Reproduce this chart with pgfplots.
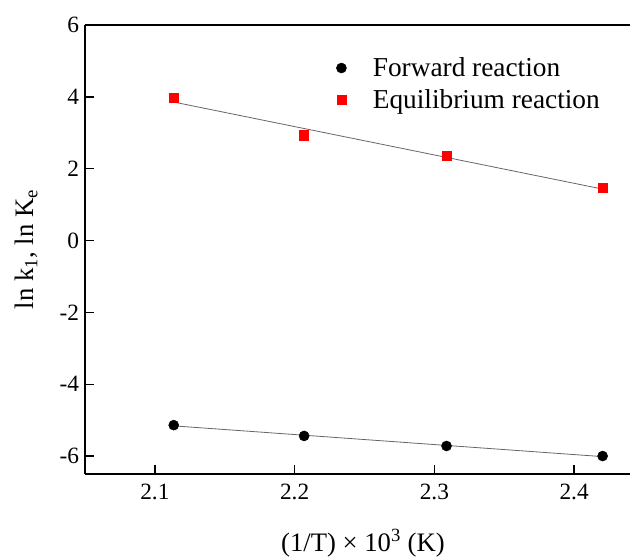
\documentclass[border=0pt]{standalone}
\usepackage{fontspec}
\setmainfont{Liberation Serif}
\usepackage{pgfplots}
\pgfplotsset{compat=1.18}

\pgfplotsset{
  wide mark legend/.style={legend image code/.code={%
    \path (0cm,0cm) (1.5cm,0cm);
    \draw[mark repeat=2,mark phase=2,##1] plot coordinates {(0cm,0cm) (0.75cm,0cm) (1.5cm,0cm)};}},
}

\begin{document}
\begin{tikzpicture}
\useasboundingbox (-63.75pt,-62.25pt) rectangle (408.75pt,355.5pt);
\begin{axis}[
  scale only axis, width=408.75pt, height=336.75pt,
  xmin=2.05, xmax=2.44, ymin=-6.5, ymax=6,
  axis x line*=box, axis y line*=left,
  axis line style={line width=1.2pt},
  xtick={2.1,2.2,2.3,2.4}, xticklabels={2.1,2.2,2.3,2.4},
  ytick={-6,-4,-2,0,2,4,6}, yticklabels={-6,-4,-2,0,2,4,6},
  xtick pos=left, ytick pos=left,
  tick align=inside, major tick length=7pt,
  tick style={line width=1pt, black},
  x tick label style={font=\fontsize{17.5}{20}\selectfont, yshift=-4pt},
  y tick label style={font=\fontsize{17.5}{20}\selectfont, xshift=-1pt},
  xlabel={(1/T) × 10\textsuperscript{3} (K)},
  ylabel={ln k\textsubscript{1}, ln K\textsubscript{e}},
  label style={font=\fontsize{20}{24}\selectfont},
  xlabel style={at={(axis description cs:0.51,-0.153)}, anchor=center},
  ylabel style={at={(axis description cs:-0.108,0.5)}, anchor=center, rotate=0},
  legend style={draw=none, fill=none, at={(0.41,0.94)}, anchor=north west,
    font=\fontsize{20.5}{24}\selectfont, cells={anchor=west}, row sep=4pt},
]
\addplot[only marks, mark=*, mark size=3.75pt, black, wide mark legend] coordinates {
  (2.1135,-5.14) (2.2068,-5.44) (2.3087,-5.72) (2.4204,-6.00)};
\addlegendentry{Forward reaction}
\addplot[only marks, mark=square*, mark size=3.4pt, red, mark options={draw=red, fill=red}, wide mark legend] coordinates {
  (2.1135,3.97) (2.2068,2.93) (2.3087,2.36) (2.4204,1.46)};
\addlegendentry{Equilibrium reaction}
\addplot[forget plot, black!60, line width=0.6pt] coordinates {(2.1135,3.855) (2.4204,1.432)};
\addplot[forget plot, black!60, line width=0.6pt] coordinates {(2.1135,-5.16) (2.4204,-6.016)};
\end{axis}
\end{tikzpicture}
\end{document}
